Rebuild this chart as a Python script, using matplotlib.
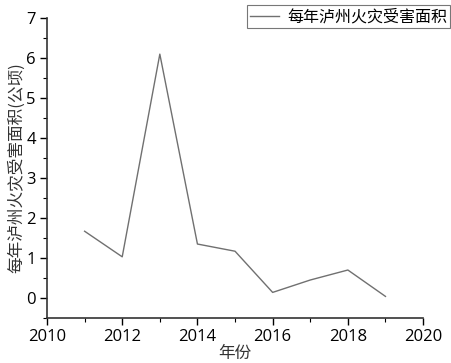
import matplotlib
matplotlib.use('Agg')
import matplotlib.pyplot as plt
from matplotlib.ticker import MultipleLocator

plt.rcParams['font.family'] = ['Open Sans', 'Noto Sans CJK SC', 'DejaVu Sans']

years = [2011, 2012, 2013, 2014, 2015, 2016, 2017, 2018, 2019]
area = [1.67, 1.03, 6.10, 1.35, 1.17, 0.14, 0.45, 0.70, 0.04]
series_name = '每年泸州火灾受害面积'

fig = plt.figure(figsize=(4.52, 3.63), dpi=100)
ax = fig.add_axes([0.104, 0.124, 0.832, 0.826])

ax.plot(years, area, color='#707070', linewidth=1.0, label=series_name)

ax.set_xlim(2010, 2020)
ax.set_ylim(-0.5, 7)
ax.xaxis.set_major_locator(MultipleLocator(2))
ax.xaxis.set_minor_locator(MultipleLocator(1))
ax.yaxis.set_major_locator(MultipleLocator(1))
ax.yaxis.set_minor_locator(MultipleLocator(0.5))

for s in ['top', 'right']:
    ax.spines[s].set_visible(False)
for s in ['left', 'bottom']:
    ax.spines[s].set_linewidth(1.2)
    ax.spines[s].set_color('#333333')

ax.tick_params(which='major', direction='out', length=5, width=1.0, labelsize=12, pad=3)
ax.tick_params(which='minor', direction='out', length=3, width=0.8)

ax.set_xlabel('年份', fontsize=12, family=['Noto Sans CJK SC'], labelpad=0, color='#333333')
ax.set_ylabel('每年泸州火灾受害面积(公顷)', fontsize=12, family=['Noto Sans CJK SC'], labelpad=1, color='#333333')

leg = ax.legend(loc='upper right', bbox_to_anchor=(1.085, 1.06),
                prop={'family': ['Noto Sans CJK SC'], 'size': 11.5},
                frameon=True, fancybox=False, handlelength=1.8, borderpad=0.2,
                handletextpad=0.5, borderaxespad=0.3)
leg.get_frame().set_edgecolor('#555555')
leg.get_frame().set_linewidth(0.8)

fig.savefig('out.png', dpi=100)
